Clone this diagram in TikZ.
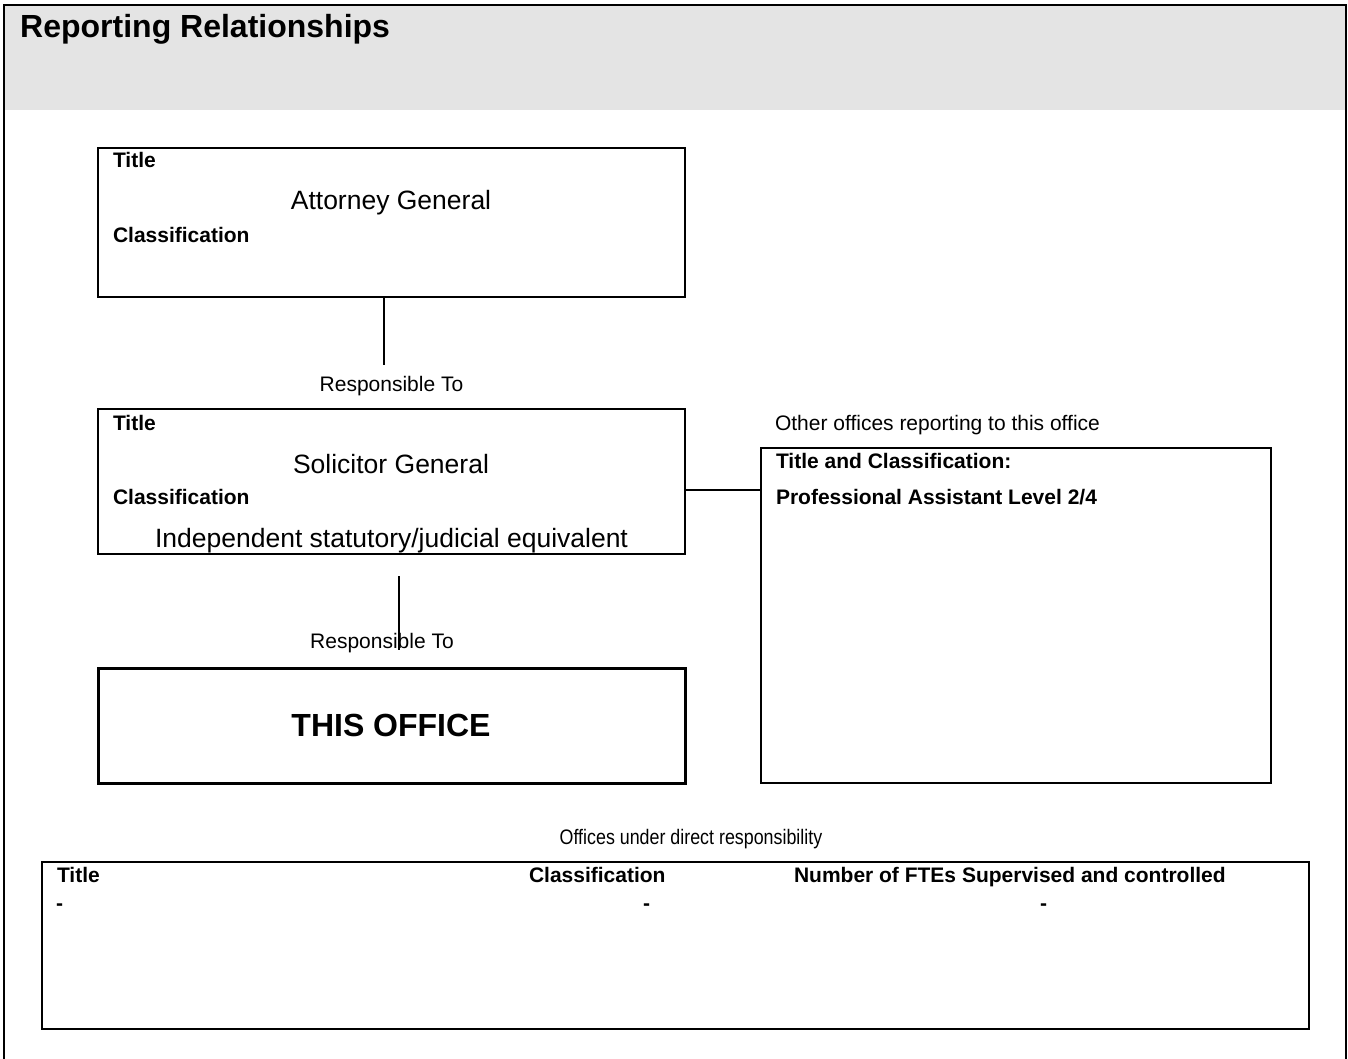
\documentclass[tikz,border=0pt]{standalone}
\usepackage{fontspec}
\setmainfont{Liberation Sans}
\definecolor{hdrgray}{RGB}{228,228,228}
\newcommand{\fbig}{\fontsize{26.5}{30}\selectfont}
\newcommand{\fsmall}{\fontsize{21}{24}\selectfont}
\newcommand{\fhuge}{\fontsize{32}{36}\selectfont\bfseries}
\tikzset{
  box/.style={draw=black, line width=2pt, inner sep=0pt, outer sep=0pt, anchor=north west},
  thickbox/.style={box, line width=3pt},
  lbl/.style={inner sep=0pt, outer sep=0pt, font=\fsmall\bfseries, anchor=base west},
  bigtxt/.style={inner sep=0pt, outer sep=0pt, font=\fbig, anchor=base},
  plain/.style={inner sep=0pt, outer sep=0pt, font=\fsmall, anchor=base},
  conn/.style={draw=black, line width=1.5pt}
}
\begin{document}
\begin{tikzpicture}[x=1pt,y=-1pt]
\useasboundingbox (0,0) rectangle (1348,1059);
% header
\fill[hdrgray] (4,5) rectangle (1346,110);
\draw[line width=2.5pt] (4,1059) -- (4,5) -- (1346,5) -- (1346,1059);
\node[inner sep=0pt, anchor=base west, font=\fhuge] (hdr) at (20,38) {Reporting Relationships};

% Attorney General box
\node[box, minimum width=587, minimum height=149] (ag) at (98,148) {};
\node[lbl] (agt) at (113,168) {Title};
\node[bigtxt] (agn) at (391,210) {Attorney General};
\node[lbl] (agc) at (113,242.5) {Classification};

% connector 1
\coordinate (c1) at (384,365);
\draw[conn] (c1 |- ag.south) -- (c1);
\node[plain] (rt1) at (391.5,391.5) {Responsible To};

% Solicitor General box
\node[box, minimum width=587, minimum height=145] (sg) at (98,409) {};
\node[lbl] (sgt) at (113,430) {Title};
\node[bigtxt] (sgn) at (391,473) {Solicitor General};
\node[lbl] (sgc) at (113,504) {Classification};
\node[bigtxt] (sgv) at (391.5,547) {Independent statutory/judicial equivalent};

% connector 2
\coordinate (c2a) at (399,576);
\coordinate (c2b) at (399,650);
\draw[conn] (c2a) -- (c2b);
\node[plain] (rt2) at (382,648.5) {Responsible To};

% This office
\node[thickbox, minimum width=587, minimum height=115] (tho) at (98,668) {};
\node[inner sep=0pt, anchor=base, font=\fhuge] (thot) at (391,736.5) {THIS OFFICE};

% other offices
\node[plain, anchor=base west] (oot) at (775,430) {Other offices reporting to this office};
\node[box, minimum width=510, minimum height=335] (oth) at (761,448) {};
\node[lbl] (otht) at (776,468.5) {Title and Classification:};
\node[lbl] (othp) at (776,504.5) {Professional Assistant Level 2/4};

% connector 3
\coordinate (c3) at (0,490);
\draw[conn] (sg.east |- c3) -- (oth.west |- c3);

% offices under direct responsibility
\node[inner sep=0pt, anchor=base, font=\fsmall] (odr) at (691,844) {\scalebox{0.85}[1]{Offices under direct responsibility}};
\node[box, line width=2.5pt, minimum width=1267, minimum height=167] (tbl) at (42,862) {};
\node[lbl] (tblt) at (57,882.5) {Title};
\node[lbl] (tblc) at (529,882.5) {Classification};
\node[lbl] (tbln) at (794,882.5) {Number of FTEs Supervised and controlled};
\node[lbl, anchor=base] (d1) at (59.5,910.5) {-};
\node[lbl, anchor=base] (d2) at (646.5,910.5) {-};
\node[lbl, anchor=base] (d3) at (1043.5,910.5) {-};
\end{tikzpicture}
\end{document}
